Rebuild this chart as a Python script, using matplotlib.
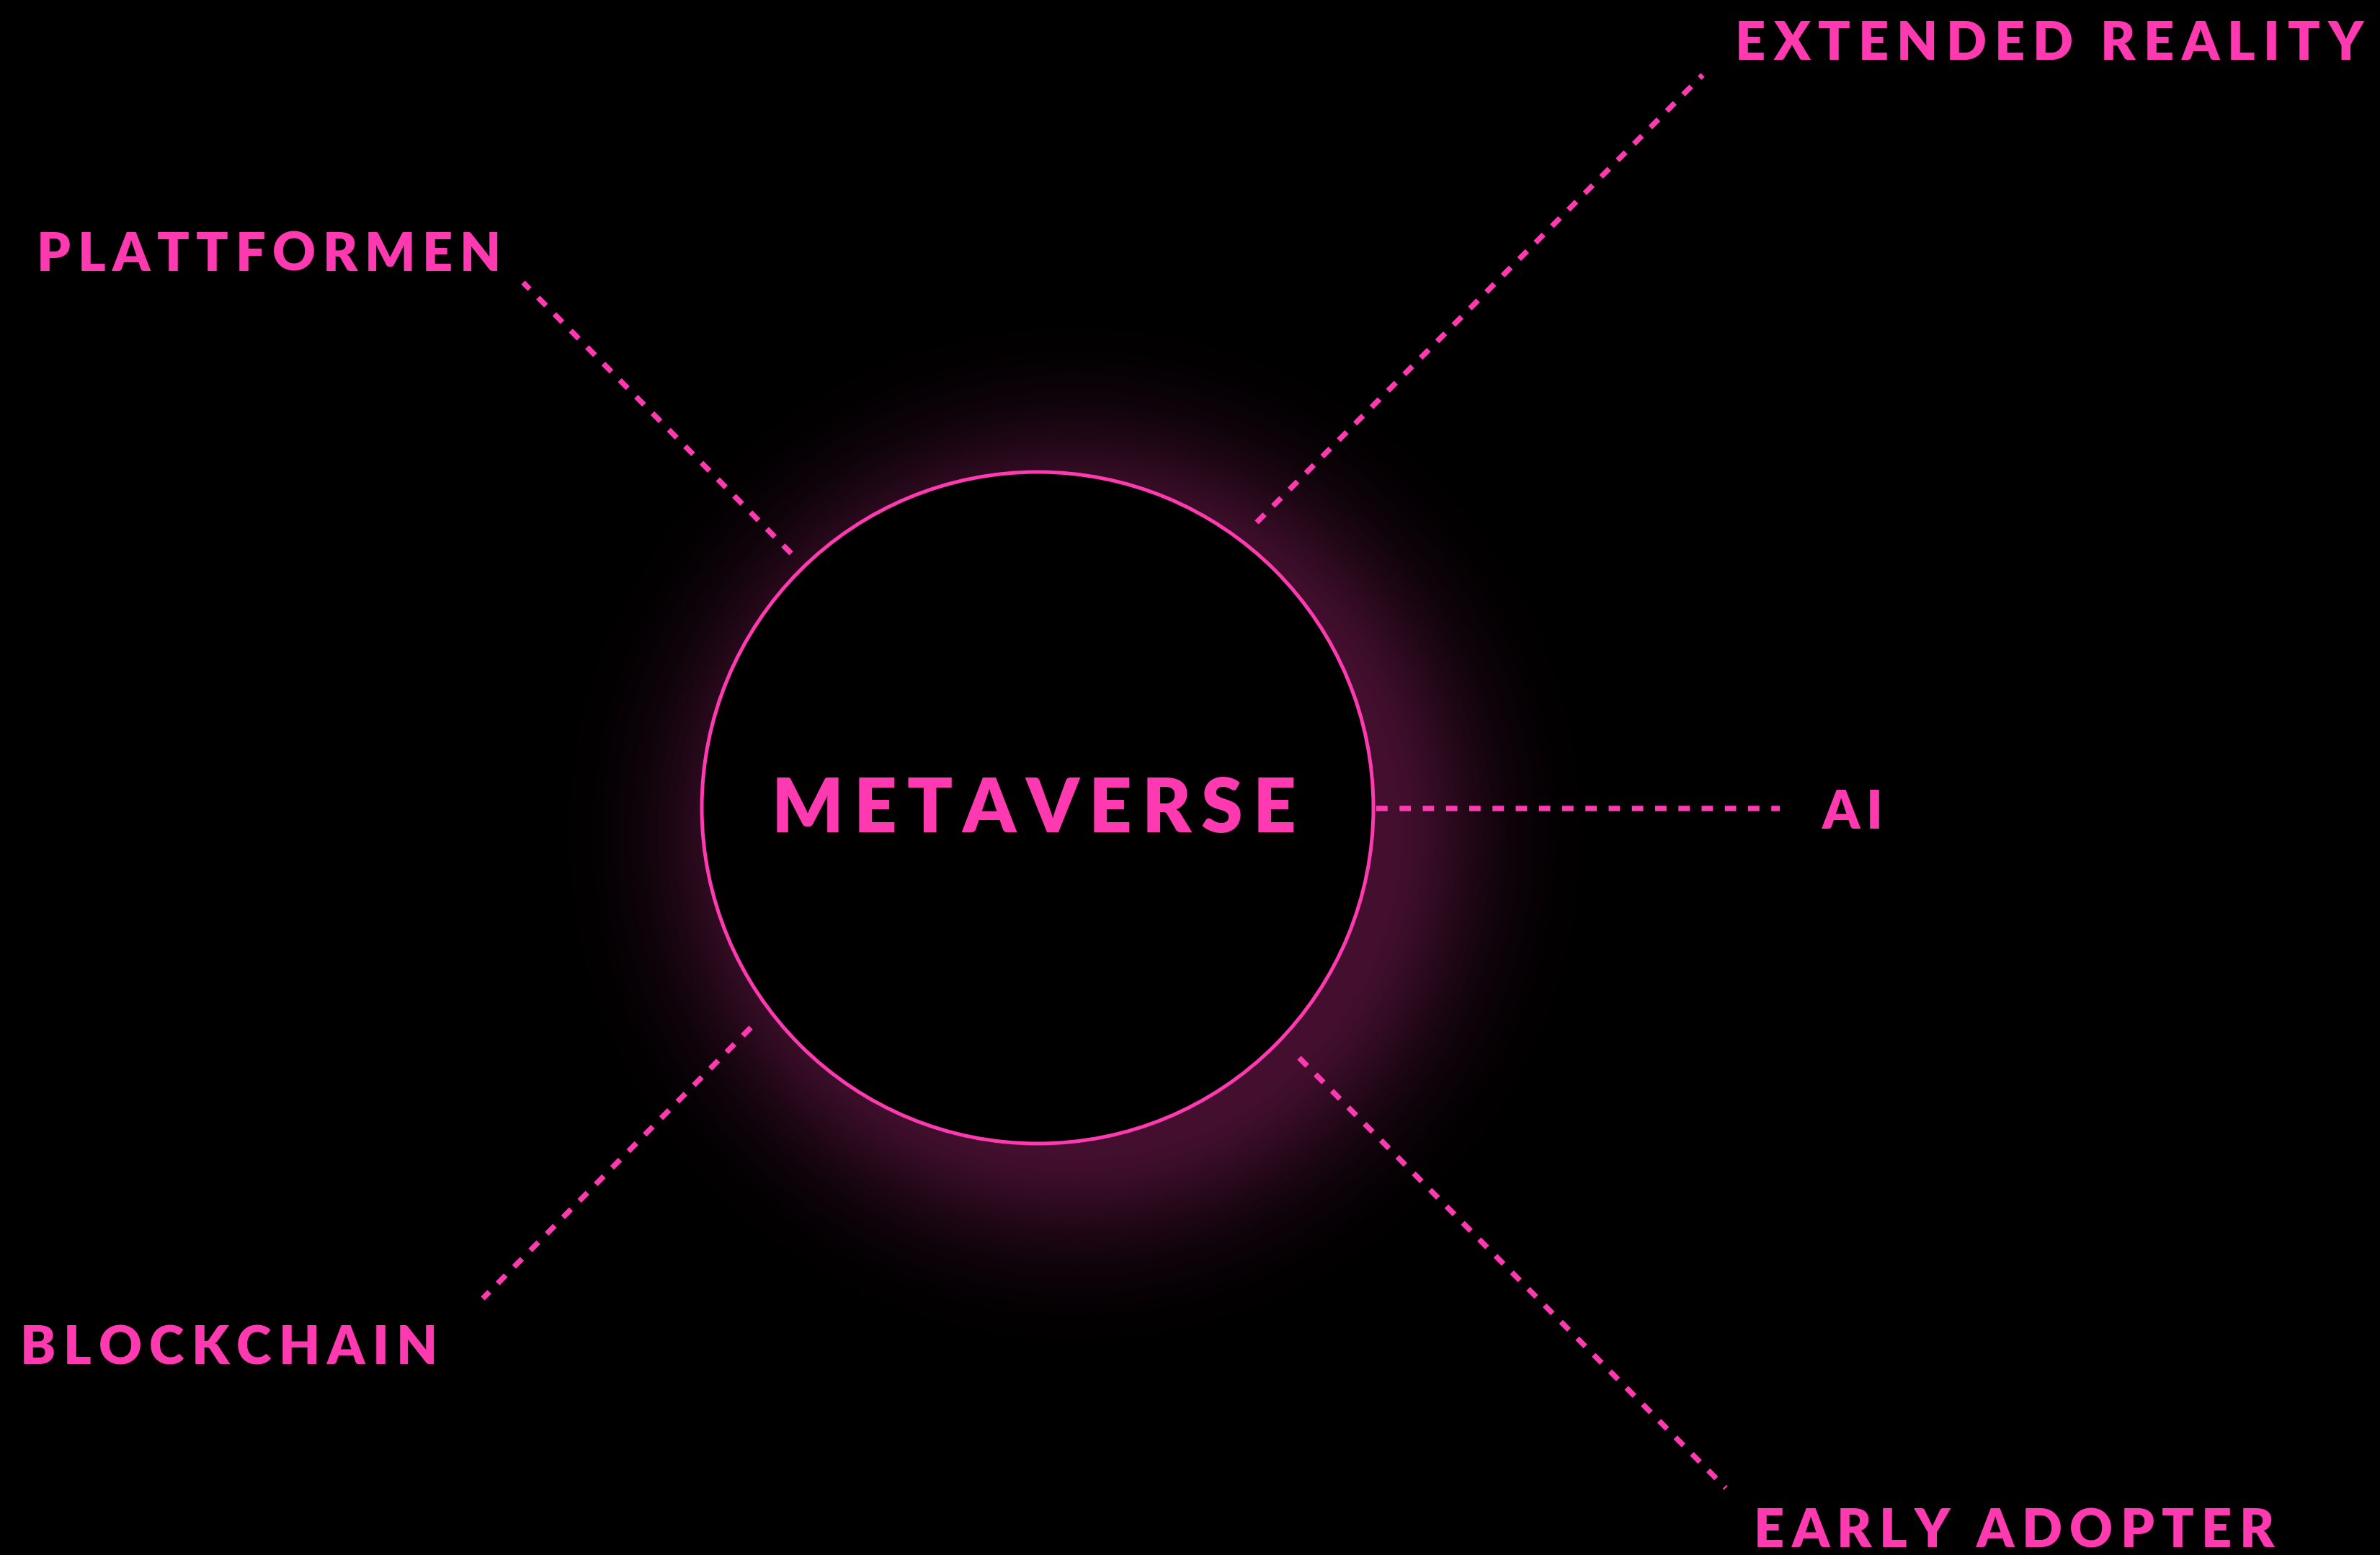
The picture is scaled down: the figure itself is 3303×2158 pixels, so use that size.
import numpy as np
import matplotlib
matplotlib.use('Agg')
import matplotlib.pyplot as plt
from matplotlib.patches import Circle
from matplotlib.font_manager import FontProperties
from matplotlib.textpath import TextToPath

W, H, DPI = 3303, 2158, 100
PINK = '#ff3ab0'
FONT = 'Lato'

# outer topics and where their dashed connectors run (canvas pixels, y down)
labels = ['PLATTFORMEN', 'EXTENDED REALITY', 'AI', 'BLOCKCHAIN', 'EARLY ADOPTER']
label_left = [51, 2408, 2529, 28, 2434]
label_right = [695, 3280, 2613, 607, 3156]
label_base = [376, 83, 1150, 1893, 2147]
line_from = [(1098, 768), (1744, 725), (1910, 1122), (1042, 1426), (1803, 1468)]
line_to = [(726, 392), (2363, 104), (2470, 1122), (670, 1802), (2395, 2065)]

# centre node
hub_label = 'METAVERSE'
hub_center = (1440, 1121)
hub_radius = 466
hub_text_left, hub_text_right, hub_text_base = 1071, 1798, 1155
glow_center = (1490, 1156)

ttp = TextToPath()


def spaced_text(ax, s, left, right, base, size):
    # matplotlib has no letter-spacing, so lay out the glyphs one by one
    prop = FontProperties(family=FONT, weight='heavy', size=size)
    widths = []
    for ch in s:
        if ch == ' ':
            widths.append(0.22 * size * DPI / 72)
        else:
            w, h, d = ttp.get_text_width_height_descent(ch, prop, ismath=False)
            widths.append(w * DPI / 72)
    gap = (right - left - sum(widths)) / (len(s) - 1)
    x = left
    for ch, w in zip(s, widths):
        if ch != ' ':
            ax.text(x, base, ch, fontproperties=prop, color=PINK,
                    ha='left', va='baseline', zorder=5)
        x += w + gap


fig = plt.figure(figsize=(W / DPI, H / DPI), dpi=DPI, facecolor='black')
ax = fig.add_axes([0, 0, 1, 1])
ax.set_facecolor('black')

# soft magenta glow behind the circle
ys, xs = np.mgrid[0:H:4, 0:W:4]
dist = np.hypot(xs - glow_center[0], ys - glow_center[1])
d = np.clip(dist - 420, 0, None)
inten = 0.27 * np.exp(-(d / 150.0) ** 2)
rgb = np.array(matplotlib.colors.to_rgb(PINK))[None, None, :] * inten[..., None]
ax.imshow(rgb, extent=(0, W, H, 0), interpolation='bilinear', zorder=0)

ax.add_patch(Circle(hub_center, hub_radius, facecolor='black', edgecolor=PINK,
                    lw=5 * 72 / DPI, zorder=2))

lw = 7.5 * 72 / DPI
for (x0, y0), (x1, y1) in zip(line_from, line_to):
    ax.plot([x0, x1], [y0, y1], color=PINK, lw=lw, linestyle=(0, (2.1, 2.2)),
            dash_capstyle='butt', zorder=3)

for s, l, r, b in zip(labels, label_left, label_right, label_base):
    spaced_text(ax, s, l, r, b, 53)

spaced_text(ax, hub_label, hub_text_left, hub_text_right, hub_text_base, 75)

ax.set_xlim(0, W)
ax.set_ylim(H, 0)
ax.set_aspect('auto')
ax.axis('off')

fig.savefig('out.png', dpi=DPI, facecolor='black')
